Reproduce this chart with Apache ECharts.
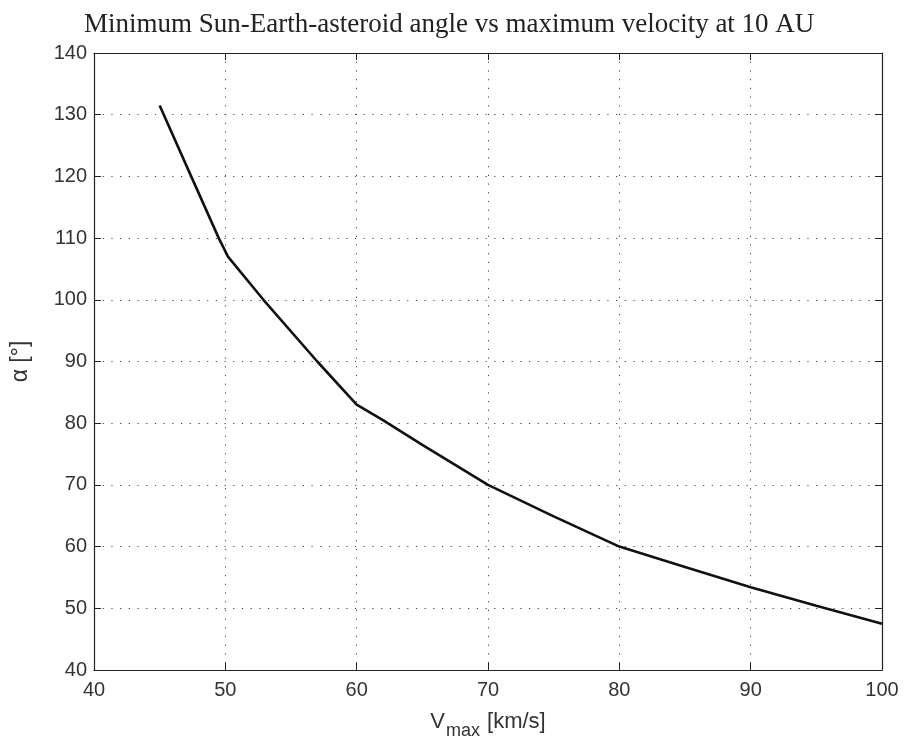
<!DOCTYPE html>
<html>
<head>
<meta charset="utf-8">
<script src="https://cdn.jsdelivr.net/npm/echarts@6/dist/echarts.min.js"></script>
<style>
html,body{margin:0;padding:0;background:#fff;}
#chart{width:904px;height:744px;}
</style>
</head>
<body>
<div id="chart"></div>
<script>
// Data
const vmax  = [45, 47.4, 49.5, 50.2, 52.9, 57, 60, 62, 65, 70, 75, 80, 85, 90, 95, 100];
const alpha = [131.5, 120, 110, 107, 100, 90, 83, 80.5, 76.5, 70, 64.9, 60, 56.7, 53.4, 50.4, 47.5];
const xTicks = [40, 50, 60, 70, 80, 90, 100];
const yTicks = [40, 50, 60, 70, 80, 90, 100, 110, 120, 130, 140];
const titleText = 'Minimum Sun-Earth-asteroid angle vs maximum velocity at 10 AU';

const points = vmax.map((v, i) => [v, alpha[i]]);
const labelFont = {fontFamily: 'Liberation Sans', fontSize: 20, color: '#333'};
const axisLine = {show: true, onZero: false, lineStyle: {color: '#222', width: 1.2}};
const tick = {show: true, inside: true, length: 7, lineStyle: {color: '#222', width: 1}};
const split = {show: true, lineStyle: {color: '#444', width: 1, type: [1.2, 7.5]}};

const chart = echarts.init(document.getElementById('chart'), null, {renderer: 'canvas'});
chart.setOption({
  backgroundColor: '#fff',
  animation: false,
  title: {
    text: titleText,
    left: 79,
    top: 6,
    textStyle: {fontFamily: 'Liberation Serif', fontWeight: 'normal', fontSize: 27, color: '#222'}
  },
  grid: {left: 94, right: 22, top: 53, bottom: 74, containLabel: false, outerBoundsMode: 'none'},
  xAxis: [{
    type: 'value', position: 'bottom',
    min: xTicks[0], max: xTicks[xTicks.length - 1], interval: 10,
    axisLine: axisLine, axisTick: tick, splitLine: split,
    axisLabel: Object.assign({margin: 10}, labelFont),
    name: '{a|V}{b|max}{a| [km/s]}',
    nameLocation: 'middle', nameGap: 34,
    nameTextStyle: {
      rich: {
        a: {fontFamily: 'Liberation Sans', fontSize: 22, color: '#333'},
        b: {fontFamily: 'Liberation Sans', fontSize: 18, color: '#333', padding: [18, 1, 0, 1]}
      }
    }
  }, {
    type: 'value', position: 'top',
    min: xTicks[0], max: xTicks[xTicks.length - 1], interval: 10,
    axisLine: axisLine, axisTick: tick, splitLine: {show: false}, axisLabel: {show: false}
  }],
  yAxis: [{
    type: 'value', position: 'left',
    min: yTicks[0], max: yTicks[yTicks.length - 1], interval: 10,
    axisLine: axisLine, axisTick: tick, splitLine: split,
    axisLabel: Object.assign({margin: 7}, labelFont),
    name: 'α [°]', nameLocation: 'middle', nameGap: 62, nameRotate: 90,
    nameTextStyle: {fontFamily: 'Liberation Sans', fontSize: 23, color: '#333'}
  }, {
    type: 'value', position: 'right',
    min: yTicks[0], max: yTicks[yTicks.length - 1], interval: 10,
    axisLine: axisLine, axisTick: tick, splitLine: {show: false}, axisLabel: {show: false}
  }],
  series: [{
    type: 'line',
    xAxisIndex: 0, yAxisIndex: 0,
    data: points,
    smooth: false,
    showSymbol: false,
    lineStyle: {color: '#111', width: 2.6}
  }]
});
</script>
</body>
</html>
